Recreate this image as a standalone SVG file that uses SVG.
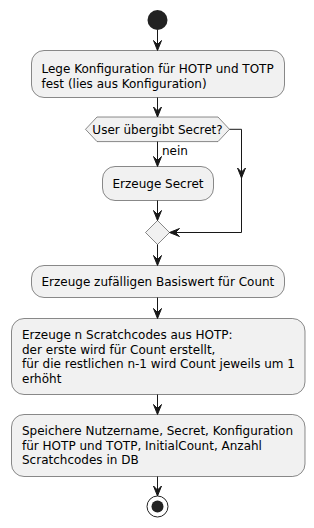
<svg xmlns="http://www.w3.org/2000/svg" width="314" height="528" viewBox="0 0 314 528">
<style>
.box{fill:#F1F1F1;stroke:#181818;stroke-width:0.5}
.t{font-family:"DejaVu Sans",sans-serif;font-size:12px;fill:#000}
.ln{fill:none;stroke:#181818;stroke-width:1}
.ah{fill:#181818;stroke:#181818;stroke-width:1}
</style>
<rect width="314" height="528" fill="#FFFFFF"/>
<g id="start"><circle cx="157.5" cy="20" r="10" fill="#222222"/></g>
<g id="a1"><rect class="box" x="31.5" y="50.5" width="253" height="47" rx="12.5"/>
<text class="t" x="41.5" y="73">Lege Konfiguration für HOTP und TOTP</text>
<text class="t" x="41.5" y="87.5">fest (lies aus Konfiguration)</text></g>
<g id="if1"><polygon class="box" points="97,117 218,117 229.5,129.3 218,141.6 97,141.6 85.5,129.3"/>
<text class="t" x="157.5" y="133.5" text-anchor="middle" font-size="11">User übergibt Secret?</text></g>
<g id="a2"><rect class="box" x="102.5" y="166.5" width="111" height="34" rx="12.5"/>
<text class="t" x="158" y="187.5" text-anchor="middle">Erzeuge Secret</text></g>
<g id="merge"><polygon class="box" points="157.5,220.5 169.5,232.5 157.5,244.5 145.5,232.5"/></g>
<g id="a3"><rect class="box" x="31.5" y="265.5" width="253" height="32" rx="12.5"/>
<text class="t" x="41.5" y="286">Erzeuge zufälligen Basiswert für Count</text></g>
<g id="a4"><rect class="box" x="11.5" y="318.5" width="293.5" height="76" rx="12.5"/>
<text class="t" x="22" y="339">Erzeuge n Scratchcodes aus HOTP:</text>
<text class="t" x="22" y="353.5">der erste wird für Count erstellt,</text>
<text class="t" x="22" y="368">für die restlichen n-1 wird Count jeweils um 1</text>
<text class="t" x="22" y="382.5">erhöht</text></g>
<g id="a5"><rect class="box" x="11.5" y="414.5" width="293.5" height="62" rx="12.5"/>
<text class="t" x="22" y="435">Speichere Nutzername, Secret, Konfiguration</text>
<text class="t" x="22" y="449.5">für HOTP und TOTP, InitialCount, Anzahl</text>
<text class="t" x="22" y="464">Scratchcodes in DB</text></g>
<g id="end"><circle cx="157.5" cy="506.5" r="10.5" fill="none" stroke="#222222" stroke-width="1"/><circle cx="157.5" cy="506.5" r="6" fill="#222222"/></g>
<g id="connectors">
<line class="ln" x1="157.5" y1="30" x2="157.5" y2="50"/>
<polygon class="ah" points="153.5,40.5 157.5,50.5 161.5,40.5 157.5,44.5"/>
<line class="ln" x1="157.5" y1="97.5" x2="157.5" y2="117"/>
<polygon class="ah" points="153.5,107 157.5,117 161.5,107 157.5,111"/>
<line class="ln" x1="157.5" y1="141.6" x2="157.5" y2="166"/>
<polygon class="ah" points="153.5,156.5 157.5,166.5 161.5,156.5 157.5,160.5"/>
<text class="t" x="162" y="155" font-size="11">nein</text>
<polyline class="ln" points="229.5,129.3 241.5,129.3 241.5,232.5 170,232.5"/>
<polygon class="ah" points="237.5,168 241.5,178 245.5,168 241.5,172"/>
<polygon class="ah" points="179.5,228.5 169.5,232.5 179.5,236.5 175.5,232.5"/>
<line class="ln" x1="157.5" y1="200.5" x2="157.5" y2="220"/>
<polygon class="ah" points="153.5,210.5 157.5,220.5 161.5,210.5 157.5,214.5"/>
<line class="ln" x1="157.5" y1="244.5" x2="157.5" y2="265"/>
<polygon class="ah" points="153.5,255.5 157.5,265.5 161.5,255.5 157.5,259.5"/>
<line class="ln" x1="157.5" y1="297.5" x2="157.5" y2="318"/>
<polygon class="ah" points="153.5,308.5 157.5,318.5 161.5,308.5 157.5,312.5"/>
<line class="ln" x1="157.5" y1="394.5" x2="157.5" y2="414"/>
<polygon class="ah" points="153.5,404.5 157.5,414.5 161.5,404.5 157.5,408.5"/>
<line class="ln" x1="157.5" y1="476.5" x2="157.5" y2="496"/>
<polygon class="ah" points="153.5,486 157.5,496 161.5,486 157.5,490"/>
</g>
</svg>
